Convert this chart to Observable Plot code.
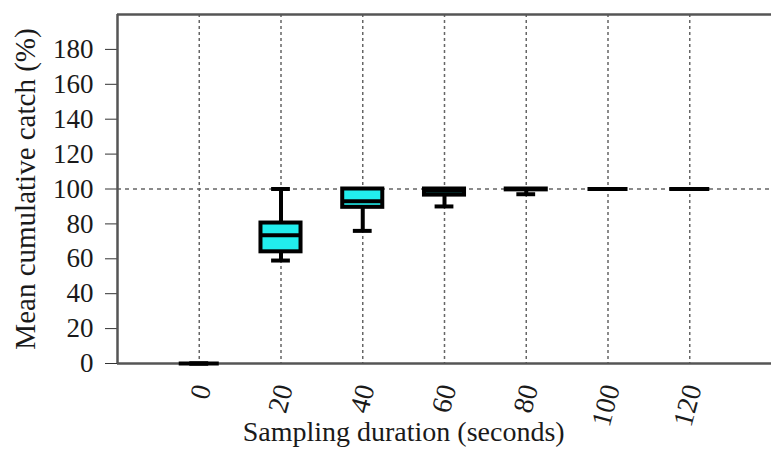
<!DOCTYPE html>
<html>
<head>
<meta charset="utf-8">
<script src="https://cdn.jsdelivr.net/npm/d3@7"></script>
<script src="https://cdn.jsdelivr.net/npm/@observablehq/plot@0.6"></script>
<style>
  html, body { margin: 0; padding: 0; background: white; }
</style>
</head>
<body>
<div id="chart"></div>
<script>
// Sampling durations (seconds)
const durations = [0, 20, 40, 60, 80, 100, 120];
// Box plot statistics (mean cumulative catch, %)
const mins    = [0, 59,   76,   90,   97,   100, 100];
const q1s     = [0, 64,   89.5, 96.5, 99.5, 100, 100];
const medians = [0, 73.5, 93,   99,   100,  100, 100];
const q3s     = [0, 80.5, 100,  100,  100,  100, 100];
const maxs    = [0, 100,  100,  100,  100,  100, 100];
const yTicks  = [0, 20, 40, 60, 80, 100, 120, 140, 160, 180];
const refLine = [100];
const xTitle = "Sampling duration (seconds)";
const yTitle = "Mean cumulative catch (%)";

const data = durations.map((d, i) => ({
  x: d, min: mins[i], q1: q1s[i], med: medians[i], q3: q3s[i], max: maxs[i]
}));

const boxHalf = 4.9;
const capHalf = 2.3;
const cyan = "#22eded";
const frameColor = "#555555";
const gridColor = "#666666";
const font = "Liberation Serif";

const chart = Plot.plot({
  width: 771,
  height: 450,
  marginLeft: 117,
  marginTop: 14,
  marginRight: 0,
  marginBottom: 87,
  x: {domain: [-20, 140], axis: null},
  y: {domain: [0, 200], axis: null},
  marks: [
    Plot.gridX({ticks: durations, stroke: gridColor, strokeOpacity: 1, strokeWidth: 1.5, strokeDasharray: "3,3"}),
    Plot.gridY({ticks: refLine, stroke: gridColor, strokeOpacity: 1, strokeWidth: 1.5, strokeDasharray: "4,4"}),
    // y ticks (marks only) and serif tick labels
    Plot.axisY({ticks: yTicks, tickSize: 12, stroke: "#333", tickFormat: () => "", label: null}),
    Plot.text(yTicks, {y: d => d, text: d => String(d), frameAnchor: "left", textAnchor: "end", dx: -24, fontSize: 27, fontFamily: font, fill: "#1a1a1a"}),
    // y title
    Plot.text([yTitle], {text: d => d, frameAnchor: "left", textAnchor: "middle", rotate: -90, dx: -92, fontSize: 29, fontFamily: font, fill: "#1a1a1a"}),
    // x tick labels (rotated)
    Plot.text(durations, {x: d => d, text: d => String(d), frameAnchor: "bottom", textAnchor: "end", rotate: -75, dx: 12, dy: 24, fontSize: 28, fontFamily: font, fill: "#1a1a1a"}),
    // x title
    Plot.text([xTitle], {x: () => 50, text: d => d, frameAnchor: "bottom", dy: 77, fontSize: 28, fontFamily: font, fill: "#1a1a1a"}),
    // frame (left, top, bottom)
    Plot.ruleY([0, 200], {stroke: frameColor, strokeWidth: 2.5}),
    Plot.ruleX([-20], {stroke: frameColor, strokeWidth: 2.5}),
    // whiskers
    Plot.ruleX(data, {x: "x", y1: "min", y2: "max", stroke: "black", strokeWidth: 4}),
    Plot.ruleY(data, {y: "min", x1: d => d.x - capHalf, x2: d => d.x + capHalf, stroke: "black", strokeWidth: 4}),
    Plot.ruleY(data, {y: "max", x1: d => d.x - capHalf, x2: d => d.x + capHalf, stroke: "black", strokeWidth: 4}),
    // boxes
    Plot.rect(data, {x1: d => d.x - boxHalf, x2: d => d.x + boxHalf, y1: "q1", y2: "q3", fill: cyan, stroke: "black", strokeWidth: 4}),
    // medians
    Plot.ruleY(data, {y: "med", x1: d => d.x - boxHalf, x2: d => d.x + boxHalf, stroke: "black", strokeWidth: 4})
  ]
});
chart.setAttribute("font-family", font);
chart.style.setProperty("background", "white");
document.getElementById("chart").appendChild(chart);
</script>
</body>
</html>
